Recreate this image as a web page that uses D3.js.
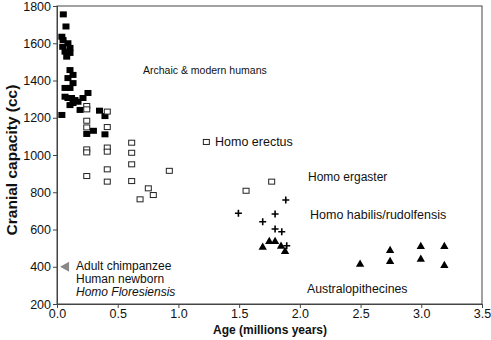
<!DOCTYPE html>
<html>
<head>
<meta charset="utf-8">
<script src="https://cdn.jsdelivr.net/npm/d3@7"></script>
<style>
  html, body { margin: 0; padding: 0; background: #fff; }
  svg { display: block; font-family: "Liberation Sans", Arial, Helvetica, sans-serif; }
</style>
</head>
<body>
<svg id="chart" width="491" height="340"></svg>
<script>
// Fossil cranial capacities (cc) against age (millions of years)
const humansAge = [0.052, 0.074, 0.040, 0.050, 0.090, 0.047, 0.107, 0.066, 0.107, 0.080,
                   0.107, 0.132, 0.090, 0.132, 0.066, 0.107, 0.066, 0.090, 0.120, 0.148,
                   0.173, 0.214, 0.255, 0.107, 0.132, 0.040, 0.190, 0.350, 0.395, 0.300,
                   0.245, 0.395];
const humansCC  = [1755, 1690, 1635, 1617, 1600, 1581, 1575, 1555, 1548, 1528,
                   1456, 1430, 1413, 1386, 1360, 1360, 1313, 1306, 1306, 1295,
                   1286, 1306, 1333, 1268, 1279, 1215, 1242, 1238, 1209, 1130,
                   1113, 1111];

const erectusAge = [0.245, 0.245, 0.414, 0.245, 0.245, 0.414, 0.615, 0.245, 0.245, 0.414,
                    0.414, 0.615, 0.615, 0.414, 0.245, 0.925, 0.414, 0.615, 0.752, 0.793,
                    0.684, 1.230, 1.557, 1.768];
const erectusCC  = [1263, 1245, 1233, 1184, 1148, 1150, 1066, 1030, 1014, 1040,
                    1018, 1012, 950, 923, 887, 915, 857, 860, 821, 785,
                    762, 1070, 808, 857];

const habilisAge = [1.494, 1.884, 1.796, 1.694, 1.796, 1.851, 1.892];
const habilisCC  = [687, 758, 683, 642, 603, 588, 513];

const australAge = [1.694, 1.748, 1.796, 1.845, 1.878, 2.496, 2.743, 2.743, 2.996, 2.996, 3.190, 3.190];
const australCC  = [504, 535, 535, 510, 481, 413, 487, 428, 508, 440, 508, 406];

// Reference marker for small-brained modern comparisons
const refAge = [0.05];
const refCC  = [400];
const refLines = ["Adult chimpanzee", "Human newborn", "Homo Floresiensis"];

const xTicks = [0, 0.5, 1, 1.5, 2, 2.5, 3, 3.5];
const yTicks = [200, 400, 600, 800, 1000, 1200, 1400, 1600, 1800];

const svg = d3.select("#chart");
const x = d3.scaleLinear().domain([0, 3.5]).range([57, 482]);
const y = d3.scaleLinear().domain([200, 1800]).range([304, 6]);

const zip = (a, b) => a.map((v, i) => [v, b[i]]);

// Frame
svg.append("rect")
  .attr("x", x(0)).attr("y", y(1800))
  .attr("width", x(3.5) - x(0)).attr("height", y(200) - y(1800))
  .attr("fill", "none").attr("stroke", "#444").attr("stroke-width", 1);

// Axes
const xAxis = svg.append("g")
  .attr("transform", `translate(0,${y(200)})`)
  .call(d3.axisBottom(x).tickValues(xTicks).tickFormat(d3.format(".1f")).tickSize(4).tickPadding(1));
const yAxis = svg.append("g")
  .attr("transform", `translate(${x(0)},0)`)
  .call(d3.axisLeft(y).tickValues(yTicks).tickFormat(d3.format("d")).tickSize(4).tickPadding(2));
[xAxis, yAxis].forEach(g => {
  g.select(".domain").attr("stroke", "#444");
  g.selectAll(".tick line").attr("stroke", "#444");
  g.selectAll(".tick text").attr("font-size", 12.5).attr("fill", "#111")
    .attr("font-family", "'Liberation Sans', Arial, sans-serif");
});

// Axis titles
svg.append("text")
  .attr("x", 270).attr("y", 334)
  .attr("text-anchor", "middle").attr("font-size", 12).attr("font-weight", "bold")
  .attr("fill", "#111").text("Age (millions years)");
svg.append("text")
  .attr("transform", `translate(17,160) rotate(-90)`)
  .attr("text-anchor", "middle").attr("font-size", 15.5).attr("font-weight", "bold")
  .attr("fill", "#111").text("Cranial capacity (cc)");

// Archaic & modern humans: filled squares
svg.append("g").selectAll("rect")
  .data(zip(humansAge, humansCC)).join("rect")
  .attr("x", d => x(d[0]) - 3.5).attr("y", d => y(d[1]) - 3)
  .attr("width", 7).attr("height", 6).attr("fill", "#000");

// Homo erectus / ergaster: open squares
svg.append("g").selectAll("rect")
  .data(zip(erectusAge, erectusCC)).join("rect")
  .attr("x", d => x(d[0]) - 3).attr("y", d => y(d[1]) - 2.5)
  .attr("width", 6).attr("height", 5)
  .attr("fill", "#fff").attr("stroke", "#222").attr("stroke-width", 1);

// Homo habilis / rudolfensis: crosses
svg.append("g").selectAll("path")
  .data(zip(habilisAge, habilisCC)).join("path")
  .attr("transform", d => `translate(${x(d[0])},${y(d[1])})`)
  .attr("d", "M-3.5,0H3.5M0,-3.5V3.5")
  .attr("stroke", "#000").attr("stroke-width", 1.6).attr("fill", "none");

// Australopithecines: filled triangles
const tri = d3.symbol().type(d3.symbolTriangle).size(30);
svg.append("g").selectAll("path")
  .data(zip(australAge, australCC)).join("path")
  .attr("transform", d => `translate(${x(d[0])},${y(d[1])})`)
  .attr("d", tri).attr("fill", "#000");

// Grey reference arrow head pointing at the axis
svg.append("g").selectAll("path")
  .data(zip(refAge, refCC)).join("path")
  .attr("transform", d => `translate(${x(d[0]) + 2},${y(d[1])})`)
  .attr("d", "M-5,0L4,-5L4,5Z").attr("fill", "#888");

// Group labels: [text, x, baseline, size]
const labels = [
  ["Archaic & modern humans", 143, 74, 10.5],
  ["Homo erectus", 215, 146, 12.5],
  ["Homo ergaster", 308, 181, 12],
  ["Homo habilis/rudolfensis", 310, 219, 12.5],
  ["Australopithecines", 307, 293, 12.3]
];
svg.append("g").selectAll("text")
  .data(labels).join("text")
  .attr("x", d => d[1]).attr("y", d => d[2])
  .attr("font-size", d => d[3]).attr("fill", "#111").text(d => d[0]);

svg.append("g").selectAll("text")
  .data(refLines).join("text")
  .attr("x", 76).attr("y", (d, i) => 270 + i * 13)
  .attr("font-size", 12).attr("fill", "#111")
  .attr("font-style", (d, i) => i === 2 ? "italic" : "normal")
  .text(d => d);
</script>
</body>
</html>
